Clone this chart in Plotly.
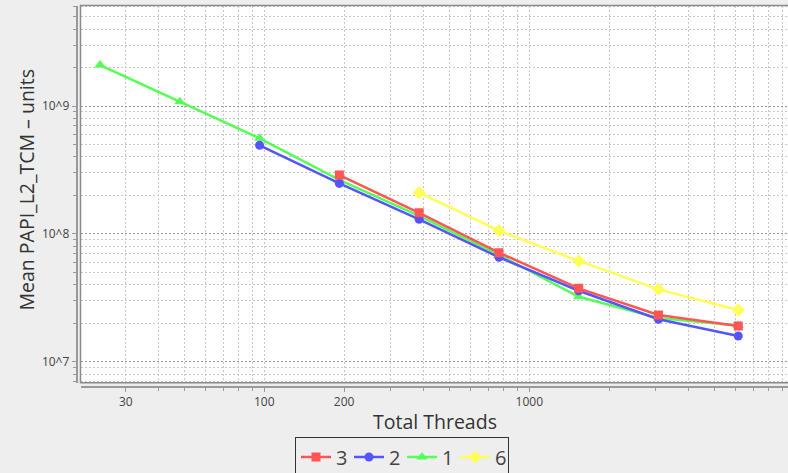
import plotly.graph_objects as go

# ---- data ----
threads_3 = [192, 384, 768, 1536, 3072, 6144]
values_3 = [2.88e8, 1.46e8, 7.13e7, 3.75e7, 2.32e7, 1.90e7]

threads_2 = [96, 192, 384, 768, 1536, 3072, 6144]
values_2 = [4.93e8, 2.48e8, 1.30e8, 6.56e7, 3.59e7, 2.15e7, 1.59e7]

threads_1 = [24, 48, 96, 192, 384, 768, 1536, 3072, 6144]
values_1 = [2.09e9, 1.08e9, 5.59e8, 2.64e8, 1.38e8, 6.84e7, 3.22e7, 2.20e7, 1.92e7]

threads_6 = [384, 768, 1536, 3072, 6144]
values_6 = [2.10e8, 1.06e8, 6.14e7, 3.68e7, 2.54e7]

x_major_ticks = [30, 100, 200, 1000]
x_major_labels = ["30", "100", "200", "1000"]
x_minor_ticks = [40, 50, 60, 70, 80, 90, 300, 400, 500, 600, 700, 800, 900,
                 2000, 3000, 4000, 5000, 6000, 7000, 8000, 9000]
y_major_ticks = [1e7, 1e8, 1e9]
y_major_labels = ["10^7", "10^8", "10^9"]
y_minor_ticks = [m * 10 ** e for e in (6, 7, 8, 9) for m in range(2, 10)]

series = [
    ("6", threads_6, values_6, "#ffff55", "diamond", 10, 4),
    ("1", threads_1, values_1, "#55ff55", "triangle-up", 10, 3),
    ("2", threads_2, values_2, "#5555ff", "circle", 9, 2),
    ("3", threads_3, values_3, "#ff5555", "square", 9, 1),
]

FONT = "Open Sans"
W, H = 788, 473

fig = go.Figure()
for name, xs, ys, color, symbol, size, rank in series:
    fig.add_trace(go.Scatter(
        x=xs, y=ys, name=name, mode="lines+markers",
        line=dict(color=color, width=2.5),
        marker=dict(symbol=symbol, size=size, color=color),
        legendrank=rank,
    ))

# pixel geometry helpers
left_px, right_px, top_px, bottom_px = 80.5, 788.0, 5.5, 382.7
xaxis_line_px, yaxis_line_px = 387.3, 76.5

fig.update_layout(
    width=W, height=H, autosize=False,
    margin=dict(l=0, r=0, t=0, b=0, pad=0, autoexpand=False),
    paper_bgcolor="#eeeeee", plot_bgcolor="white",
    font=dict(family=FONT, color="#444444", size=12),
    showlegend=True,
    legend=dict(
        orientation="h", x=402 / W, xanchor="center",
        y=(H - 436.5) / H, yanchor="top",
        bordercolor="#333333", borderwidth=1, bgcolor="rgba(0,0,0,0)",
        font=dict(size=20, color="#444444", family=FONT),
        itemwidth=30, entrywidth=8, traceorder="normal",
    ),
    xaxis=dict(
        type="log", domain=[left_px / W, 1],
        range=[1.3064, 3.9762],
        anchor="free", position=(H - xaxis_line_px) / H,
        showline=True, linecolor="#999999", linewidth=1.5,
        tickmode="array", tickvals=x_major_ticks, ticktext=x_major_labels,
        ticks="outside", ticklen=4, tickcolor="#999999", tickwidth=1,
        tickfont=dict(size=12, color="#444444"),
        showgrid=True, gridcolor="#c8c8c8", gridwidth=1, griddash="2px,2px",
        minor=dict(tickvals=x_minor_ticks, ticks="outside", ticklen=3,
                   tickcolor="#999999", showgrid=True, gridcolor="#c8c8c8",
                   gridwidth=1, griddash="2px,2px"),
        zeroline=False, automargin=False,
    ),
    yaxis=dict(
        type="log", domain=[(H - bottom_px) / H, (H - top_px) / H],
        range=[6.8358, 9.7861],
        anchor="free", position=yaxis_line_px / W,
        showline=True, linecolor="#999999", linewidth=1.5,
        tickmode="array", tickvals=y_major_ticks, ticktext=y_major_labels,
        ticks="outside", ticklen=4, tickcolor="#999999", tickwidth=1,
        tickfont=dict(size=12, color="#444444"),
        showgrid=True, gridcolor="#9a9a9a", gridwidth=1, griddash="2px,2px",
        minor=dict(tickvals=y_minor_ticks, ticks="outside", ticklen=3,
                   tickcolor="#999999", showgrid=True, gridcolor="#c8c8c8",
                   gridwidth=1, griddash="2px,2px"),
        zeroline=False, automargin=False,
    ),
    shapes=[dict(
        type="rect", xref="paper", yref="paper",
        x0=left_px / W, x1=1.01, y0=(H - bottom_px) / H, y1=(H - top_px) / H,
        line=dict(color="#8a8a8a", width=1.5), layer="above",
    )],
    annotations=[
        dict(text="Total Threads", xref="paper", yref="paper",
             x=435 / W, y=(H - 421.7) / H, xanchor="center", yanchor="middle",
             showarrow=False, font=dict(size=19.5, color="#333333", family=FONT)),
        dict(text="Mean PAPI_L2_TCM – units", xref="paper", yref="paper",
             x=26 / W, y=(H - 189.5) / H, xanchor="center", yanchor="middle",
             textangle=-90, showarrow=False,
             font=dict(size=19.5, color="#333333", family=FONT)),
    ],
)

fig.write_html("out.html")
